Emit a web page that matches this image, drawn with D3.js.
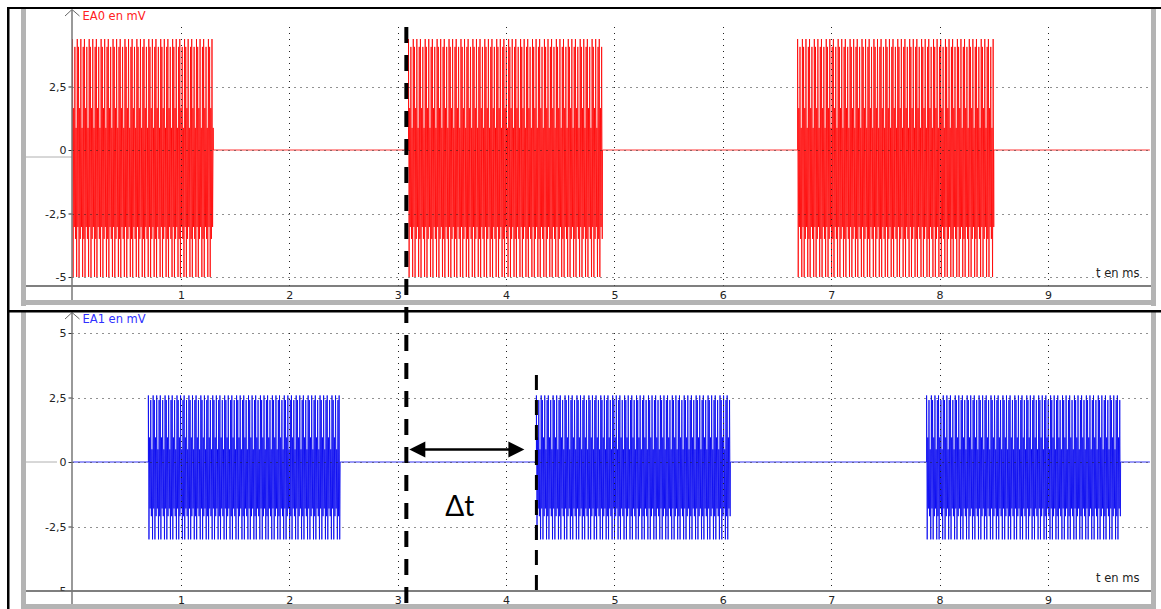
<!DOCTYPE html>
<html>
<head>
<meta charset="utf-8">
<script src="https://cdn.jsdelivr.net/npm/d3@7"></script>
<style>
  body { margin: 0; background: #fff; }
  svg { display: block; }
  text { font-family: 'DejaVu Sans', Verdana, sans-serif; }
</style>
</head>
<body>
<script>
'use strict';

// tick values
const timeTicks = [1, 2, 3, 4, 5, 6, 7, 8, 9];
const ea0Ticks = [2.5, 0, -2.5, -5];
const ea1Ticks = [5, 2.5, 0, -2.5, -5];

// visible time window (ms)
const timeRange = [0, 9.94];

// burst windows [start, end] in ms
const ea0Bursts = [[0.0, 1.30], [3.10, 4.89], [6.69, 8.50]];
const ea1Bursts = [[0.70, 2.47], [4.28, 6.07], [7.88, 9.67]];

// sample levels seen inside a burst (mV), they repeat along the burst
const ea0Levels = [4.37, -5.0, 1.65, -3.03, 4.06, -3.5, 0.87, -5.0, 4.37, -3.03,
                   4.06, -5.0, 1.65, -3.5, 4.37, -3.03, 0.87, -5.0, 4.06, -3.5];
const ea1Levels = [2.58, -3.0, 0.95, -1.8, 2.4, -2.1, 0.49, -3.0, 2.58, -1.8,
                   2.4, -3.0, 0.95, -2.1, 2.58, -1.8, 0.49, -3.0, 2.4, -2.1];
const sampleStep = 0.0055; // ms between samples

// dashed markers (ms) and the annotation
const markerTimes = [3.08, 4.28];
const deltaLabel = 'Δt';

(function() {
  let svg = '';

  window.onload = function() {
    svg = d3.select('body')
      .append('svg')
      .attr('width', 1161)
      .attr('height', 609);

    let x = d3.scaleLinear()
      .domain([0, 9])
      .range([72.5, 1048]);

    // top panel : EA0
    drawPanel({
      x: x,
      y: d3.scaleLinear().domain([-5, 2.5]).range([277, 86.5]),
      ticks: ea0Ticks,
      series: buildSeries(ea0Bursts, ea0Levels),
      color: '#ff0000',
      label: 'EA0 en mV',
      labelColor: '#ff2020',
      top: 8, bottom: 305, plotTop: 27, axisY: 286,
      zeroMark: [26, 72, 7]
    });

    // bottom panel : EA1
    drawPanel({
      x: x,
      y: d3.scaleLinear().domain([-2.5, 5]).range([526.5, 333]),
      ticks: ea1Ticks,
      series: buildSeries(ea1Bursts, ea1Levels),
      color: '#0000f0',
      label: 'EA1 en mV',
      labelColor: '#3030ff',
      top: 311, bottom: 609, plotTop: 333, axisY: 591,
      zeroMark: [26, 57, 0]
    });

    // black frame lines
    svg.append('rect').attr('x', 7).attr('y', 7).attr('width', 1154).attr('height', 2).attr('fill', '#000');
    svg.append('rect').attr('x', 7).attr('y', 310).attr('width', 1154).attr('height', 2.5).attr('fill', '#000');
    svg.append('rect').attr('x', 7).attr('y', 7).attr('width', 2.5).attr('height', 602).attr('fill', '#000');

    drawAnnotation(x);
  };

  // turn bursts + repeating levels into [t, v] points
  function buildSeries(bursts, levels) {
    let pts = [];
    bursts.forEach((b) => {
      pts.push([b[0], 0]);
      let n = Math.floor((b[1] - b[0]) / sampleStep);
      for (let i = 0; i <= n; i++) {
        pts.push([b[0] + i * sampleStep, levels[i % levels.length]]);
      }
      pts.push([b[1], 0]);
    });
    if (pts[0][0] > timeRange[0]) pts.unshift([timeRange[0], 0]);
    pts.push([timeRange[1], 0]);
    return pts;
  }

  function drawPanel(p) {
    let g = svg.append('g');
    let xL = p.x(timeRange[0]);
    let xR = p.x(timeRange[1]);

    // signal
    let line = d3.line()
      .x((d) => p.x(d[0]))
      .y((d) => p.y(d[1]));
    g.append('path')
      .datum(p.series)
      .attr('d', line)
      .attr('fill', 'none')
      .attr('stroke', p.color)
      .attr('stroke-width', 0.8);

    // dotted grid
    g.selectAll('.vgrid')
      .data(timeTicks)
      .enter()
      .append('line')
        .attr('x1', (d) => Math.round(p.x(d)) + 0.5)
        .attr('x2', (d) => Math.round(p.x(d)) + 0.5)
        .attr('y1', p.plotTop)
        .attr('y2', p.axisY)
        .attr('stroke', '#222')
        .attr('stroke-dasharray', '1,5');
    g.selectAll('.hgrid')
      .data(p.ticks)
      .enter()
      .append('line')
        .attr('x1', xL)
        .attr('x2', xR)
        .attr('y1', (d) => Math.round(p.y(d)) + 0.5)
        .attr('y2', (d) => Math.round(p.y(d)) + 0.5)
        .attr('stroke', '#222')
        .attr('stroke-dasharray', '1,5');

    // y axis ticks + labels
    let yAxis = d3.axisLeft(p.y)
      .tickValues(p.ticks)
      .tickSize(4)
      .tickPadding(2)
      .tickFormat((d) => String(d).replace('.', ','));
    let ya = g.append('g')
      .attr('transform', 'translate(' + xL + ',0)')
      .call(yAxis);
    ya.select('.domain').remove();
    ya.selectAll('line').attr('stroke', '#333');
    ya.selectAll('text')
      .attr('fill', '#222')
      .style('font-size', '11px')
      .style('font-family', "'DejaVu Sans', Verdana, sans-serif");

    // zero marker left of the axis
    g.append('line')
      .attr('x1', p.zeroMark[0]).attr('x2', p.zeroMark[1])
      .attr('y1', p.y(0) + p.zeroMark[2]).attr('y2', p.y(0) + p.zeroMark[2])
      .attr('stroke', '#b0b0b0');

    // white band under the time axis
    g.append('rect')
      .attr('x', 26).attr('y', p.axisY)
      .attr('width', 1125).attr('height', p.bottom - p.axisY)
      .attr('fill', '#fff');

    // time axis
    let xAxis = d3.axisBottom(p.x)
      .tickValues(timeTicks)
      .tickSize(0)
      .tickPadding(5)
      .tickFormat(d3.format('d'));
    let xa = g.append('g')
      .attr('transform', 'translate(0,' + p.axisY + ')')
      .call(xAxis);
    xa.select('.domain').remove();
    xa.selectAll('text')
      .attr('fill', '#222')
      .style('font-size', '11px')
      .style('font-family', "'DejaVu Sans', Verdana, sans-serif");
    g.append('line')
      .attr('x1', 26).attr('x2', 1151)
      .attr('y1', p.axisY).attr('y2', p.axisY)
      .attr('stroke', '#555')
      .attr('stroke-width', 1.5);

    // vertical axis line with arrow head
    g.append('line')
      .attr('x1', xL - 0.5).attr('x2', xL - 0.5)
      .attr('y1', p.top + 2).attr('y2', p.bottom)
      .attr('stroke', '#777')
      .attr('stroke-width', 1.5);
    g.append('path')
      .attr('d', 'M' + (xL - 7.5) + ',' + (p.top + 8) + 'L' + (xL - 0.5) + ',' + (p.top + 1.5) + 'L' + (xL + 7) + ',' + (p.top + 8))
      .attr('fill', 'none')
      .attr('stroke', '#666')
      .attr('stroke-width', 1);

    // axis titles
    g.append('text')
      .attr('x', xL + 10)
      .attr('y', p.top + 11.5)
      .attr('fill', p.labelColor)
      .style('font-size', '11.5px')
      .text(p.label);
    g.append('text')
      .attr('x', 1096)
      .attr('y', p.axisY - 9)
      .attr('fill', '#222')
      .style('font-size', '11.5px')
      .text('t en ms');

    // grey strips of the panel
    let grey = '#b4b4b4';
    g.append('rect').attr('x', 21).attr('y', p.top + 1).attr('width', 5).attr('height', p.bottom - p.top).attr('fill', grey);
    g.append('rect').attr('x', 1151).attr('y', p.top + 1).attr('width', 5).attr('height', p.bottom - p.top).attr('fill', grey);
    g.append('rect').attr('x', 21).attr('y', p.bottom - 5).attr('width', 1135).attr('height', 5).attr('fill', grey);
  }

  // dashed markers, double arrow and delta label
  function drawAnnotation(x) {
    let m0 = x(markerTimes[0]);
    let m1 = x(markerTimes[1]);

    svg.append('line')
      .attr('x1', m0).attr('x2', m0)
      .attr('y1', 27).attr('y2', 609)
      .attr('stroke', '#000')
      .attr('stroke-width', 4)
      .attr('stroke-dasharray', '16,12');
    svg.append('line')
      .attr('x1', m1).attr('x2', m1)
      .attr('y1', 375).attr('y2', 590)
      .attr('stroke', '#000')
      .attr('stroke-width', 3)
      .attr('stroke-dasharray', '15,10');

    let ay = 449.5;
    let a0 = m0 + 3;
    let a1 = m1 - 12;
    svg.append('line')
      .attr('x1', a0 + 10).attr('x2', a1 - 10)
      .attr('y1', ay).attr('y2', ay)
      .attr('stroke', '#000')
      .attr('stroke-width', 2.3);
    svg.append('path')
      .attr('d', 'M' + a0 + ',' + ay + 'L' + (a0 + 16) + ',' + (ay - 8) + 'L' + (a0 + 16) + ',' + (ay + 8) + 'Z')
      .attr('fill', '#000');
    svg.append('path')
      .attr('d', 'M' + a1 + ',' + ay + 'L' + (a1 - 16) + ',' + (ay - 8) + 'L' + (a1 - 16) + ',' + (ay + 8) + 'Z')
      .attr('fill', '#000');

    svg.append('text')
      .attr('x', a0 + 36)
      .attr('y', 516)
      .attr('fill', '#000')
      .style('font-family', "Lato, 'Open Sans', sans-serif")
      .style('font-size', '28px')
      .text(deltaLabel);
  }
})();
</script>
</body>
</html>
